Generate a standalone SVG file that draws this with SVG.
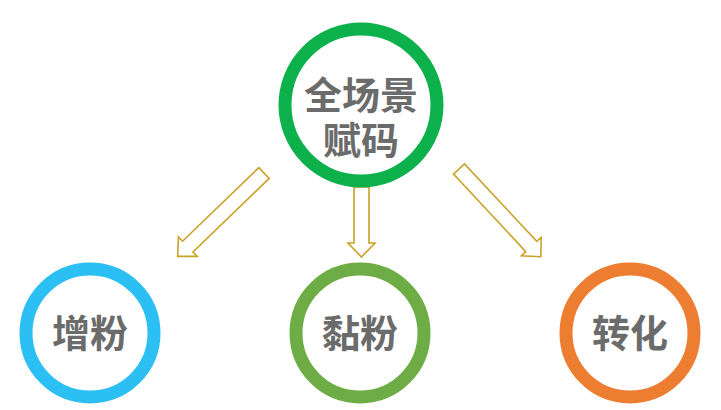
<svg xmlns="http://www.w3.org/2000/svg" width="721" height="410" viewBox="0 0 721 410">
<style>
.c{fill:none;stroke-width:13}
.t{font-family:"Noto Sans CJK SC",sans-serif;font-weight:bold;fill:#6b6b6b;text-anchor:middle}
.a{fill:#fff;stroke:#C9A227;stroke-width:1.6;stroke-linejoin:miter}
</style>
<rect width="721" height="410" fill="#fff"/>
<g id="connectors">
<path class="a" d="M-7.5,0H7.5V56H13.5L0,70L-13.5,56H-7.5Z" transform="translate(361.5,187)"/>
<path class="a" d="M-7.5,0H7.5V106H13.5L0,120L-13.5,106H-7.5Z" transform="translate(264,173) rotate(46)"/>
<path class="a" d="M-7.5,0H7.5V106H13.5L0,120L-13.5,106H-7.5Z" transform="translate(459,169) rotate(-43)"/>
</g>
<g id="top"><circle class="c" cx="361" cy="105" r="76" stroke="#0CB14B"/>
<text class="t" x="361" y="109" font-size="38">全场景</text>
<text class="t" x="361" y="154" font-size="38">赋码</text></g>
<g id="left"><circle class="c" cx="90" cy="333" r="64" stroke="#2BBFF3"/>
<text class="t" x="90" y="347" font-size="38">增粉</text></g>
<g id="mid"><circle class="c" cx="360" cy="333" r="64" stroke="#6EAD45"/>
<text class="t" x="360" y="347" font-size="38">黏粉</text></g>
<g id="right"><circle class="c" cx="630" cy="333" r="64" stroke="#ED7D31"/>
<text class="t" x="630" y="347" font-size="38">转化</text></g>
</svg>
